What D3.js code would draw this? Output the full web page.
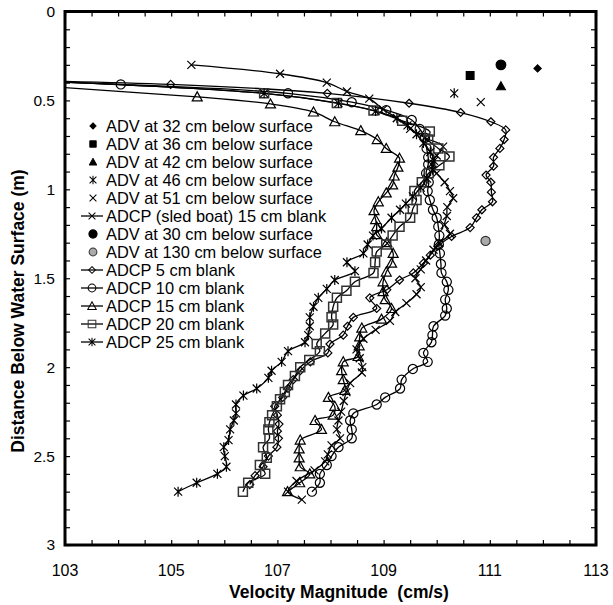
<!doctype html>
<html>
<head>
<meta charset="utf-8">
<script src="https://cdn.jsdelivr.net/npm/d3@7"></script>
<style>
body { margin: 0; background: #fff; }
text { font-family: Arial, "Liberation Sans", sans-serif; fill: #000; }
.axis path { display: none; }
.axis line { stroke: #000; stroke-width: 1.2px; }
</style>
</head>
<body>
<svg width="613" height="605"></svg>
<script>
// tick labels
var xLabels = [103, 105, 107, 109, 111, 113];
var yLabels = [0, 0.5, 1, 1.5, 2, 2.5, 3];

// ADCP profiles: [velocity cm/s, depth m]
var adcp5 = [[97,0.36],[104.99,0.41],[107.94,0.46],[109.48,0.516],[110.45,0.568],[111.02,0.62],[111.30,0.666],[111.27,0.72],[111.19,0.77],[111.07,0.82],[111.07,0.87],[110.93,0.92],[111.02,0.96],[111.03,1.016],[111.05,1.07],[110.85,1.115],[110.75,1.16],[110.63,1.215],[110.28,1.265],[110.02,1.32],[109.88,1.37],[109.75,1.415],[109.56,1.47],[109.30,1.51],[109.06,1.565],[108.74,1.61],[108.87,1.67],[108.43,1.72],[108.32,1.77],[108.24,1.82],[107.99,1.87],[107.95,1.92],[107.62,1.97],[107.43,2.02],[107.30,2.07],[107.20,2.12],[107.10,2.17],[106.95,2.22],[107.00,2.27],[107.03,2.32],[107.00,2.36],[107.02,2.40],[106.99,2.45],[106.83,2.50],[106.73,2.56],[106.58,2.61],[106.48,2.66]];
var adcp10 = [[97,0.35],[104.05,0.41],[107.2,0.46],[108.4,0.51],[109.05,0.555],[109.53,0.61],[109.68,0.66],[109.78,0.71],[109.81,0.77],[109.84,0.82],[109.84,0.86],[109.80,0.91],[109.85,0.96],[109.83,1.01],[109.87,1.06],[109.93,1.115],[110.00,1.16],[110.03,1.21],[110.05,1.26],[110.04,1.31],[110.06,1.36],[110.08,1.42],[110.09,1.47],[110.19,1.52],[110.22,1.565],[110.16,1.62],[110.19,1.67],[110.16,1.71],[109.94,1.77],[109.92,1.82],[109.90,1.86],[109.75,1.92],[109.83,1.97],[109.55,2.01],[109.34,2.07],[109.31,2.12],[109.03,2.17],[108.87,2.21],[108.43,2.26],[108.37,2.30],[108.40,2.35],[108.40,2.40],[108.15,2.45],[108.02,2.50],[107.93,2.55],[107.80,2.60],[107.80,2.65],[107.65,2.70]];
var adcp15 = [[99,0.35],[105.49,0.48],[106.87,0.52],[107.68,0.565],[108.08,0.62],[108.57,0.67],[108.88,0.72],[109.05,0.77],[109.30,0.825],[109.27,0.875],[109.20,0.925],[109.17,0.975],[109.05,1.02],[108.90,1.07],[108.82,1.12],[108.85,1.17],[108.87,1.21],[108.87,1.255],[109.06,1.30],[109.18,1.36],[109.15,1.415],[109.05,1.465],[108.99,1.52],[108.99,1.575],[109.03,1.62],[109.15,1.67],[108.96,1.73],[108.59,1.78],[108.55,1.83],[108.54,1.88],[108.52,1.94],[108.24,1.97],[108.21,2.02],[108.24,2.07],[108.27,2.13],[107.96,2.17],[108.08,2.22],[108.05,2.27],[107.71,2.30],[107.83,2.35],[107.43,2.41],[107.41,2.46],[107.41,2.51],[107.43,2.56],[107.61,2.60],[107.42,2.65],[107.19,2.70]];
var adcp20 = [[100,0.36],[106.75,0.46],[108.12,0.515],[108.81,0.557],[109.35,0.615],[109.87,0.675],[109.84,0.72],[110.03,0.77],[110.24,0.815],[110.05,0.865],[109.85,0.91],[109.72,0.96],[109.58,1.01],[109.62,1.06],[109.55,1.11],[109.50,1.16],[109.30,1.21],[109.17,1.26],[109.05,1.31],[108.87,1.35],[108.84,1.41],[108.81,1.47],[108.46,1.52],[108.30,1.57],[108.12,1.61],[108.05,1.66],[108.02,1.72],[108.05,1.76],[107.90,1.81],[107.74,1.87],[107.80,1.91],[107.60,1.96],[107.43,2.00],[107.33,2.05],[107.20,2.10],[107.14,2.14],[107.05,2.18],[106.99,2.22],[106.90,2.27],[106.85,2.31],[106.83,2.35],[106.85,2.40],[106.73,2.45],[106.80,2.51],[106.67,2.55],[106.77,2.60],[106.45,2.65],[106.35,2.70]];
var adcp25 = [[100,0.36],[106.75,0.46],[108.15,0.515],[108.85,0.56],[109.25,0.60],[109.45,0.64],[109.62,0.69],[109.75,0.74],[109.88,0.79],[109.95,0.84],[109.92,0.89],[109.82,0.94],[109.70,0.99],[109.55,1.04],[109.42,1.08],[109.31,1.115],[109.15,1.16],[108.96,1.22],[108.80,1.26],[108.70,1.31],[108.62,1.36],[108.31,1.41],[108.46,1.46],[108.08,1.51],[107.93,1.56],[107.77,1.61],[107.68,1.66],[107.61,1.72],[107.61,1.77],[107.58,1.82],[107.52,1.86],[107.20,1.91],[107.08,1.97],[106.89,2.02],[106.83,2.06],[106.61,2.12],[106.36,2.16],[106.22,2.21],[106.22,2.26],[106.18,2.30],[106.11,2.35],[106.08,2.41],[105.99,2.45],[106.01,2.50],[106.04,2.56],[105.87,2.60],[105.48,2.65],[105.13,2.70]];
var sledBoat = [[105.38,0.30],[107.05,0.35],[107.93,0.40],[108.31,0.45],[108.73,0.49],[108.99,0.55],[109.25,0.60],[109.50,0.66],[109.78,0.71],[110.12,0.76],[110.00,0.81],[109.90,0.86],[110.00,0.91],[110.15,0.96],[110.25,1.01],[110.31,1.05],[110.20,1.10],[110.19,1.15],[110.15,1.20],[110.25,1.25],[110.05,1.30],[109.94,1.34],[109.80,1.40],[109.70,1.45],[109.60,1.50],[109.70,1.55],[109.62,1.59],[109.43,1.64],[109.22,1.69],[109.12,1.74],[108.85,1.79],[108.62,1.84],[108.49,1.90],[108.55,1.95],[108.60,2.00],[108.59,2.03],[108.37,2.09],[108.30,2.14],[108.25,2.19],[108.20,2.25],[108.15,2.30],[108.12,2.35],[108.18,2.40],[108.02,2.44],[107.95,2.49],[107.90,2.53],[107.70,2.58],[107.36,2.64],[107.20,2.70],[107.46,2.745]];

// single ADV points
var adv32 = [[111.9, 0.32]];
var adv36 = [[110.63, 0.36]];
var adv42 = [[111.21, 0.42]];
var adv46 = [[110.33, 0.46]];
var adv51 = [[110.83, 0.51]];
var adv30 = [[111.21, 0.30]];
var adv130 = [[110.92, 1.29]];

var shapes = {
    diamond: "M0,-4L4,0L0,4L-4,0Z",
    smallDiamond: "M0,-3.6L3.6,0L0,3.6L-3.6,0Z",
    square: "M-4.5,-4.5H4.5V4.5H-4.5Z",
    triangle: "M0,-5L5,4L-5,4Z",
    cross: "M-4,-4L4,4M-4,4L4,-4",
    star: "M-4,-4L4,4M-4,4L4,-4M0,-5V5",
    circle: d3.symbol(d3.symbolCircle, 66)()
};

var series = [
    { name: "ADV at 32 cm below surface", data: adv32, shape: "smallDiamond", line: false, fill: "#000", stroke: "#000" },
    { name: "ADV at 36 cm below surface", data: adv36, shape: "square", line: false, fill: "#000", stroke: "#000", scale: 0.85 },
    { name: "ADV at 42 cm below surface", data: adv42, shape: "triangle", line: false, fill: "#000", stroke: "#000", scale: 0.9 },
    { name: "ADV at 46 cm below surface", data: adv46, shape: "star", line: false, fill: "none", stroke: "#000" },
    { name: "ADV at 51 cm below surface", data: adv51, shape: "cross", line: false, fill: "none", stroke: "#000" },
    { name: "ADCP (sled boat) 15 cm blank", data: sledBoat, shape: "cross", line: true, fill: "none", stroke: "#000" },
    { name: "ADV at 30 cm below surface", data: adv30, shape: "circle", line: false, fill: "#000", stroke: "#000", scale: 1.05 },
    { name: "ADV at 130 cm below surface", data: adv130, shape: "circle", line: false, fill: "#aaa", stroke: "#333" },
    { name: "ADCP 5 cm blank", data: adcp5, shape: "diamond", line: true, fill: "none", stroke: "#000" },
    { name: "ADCP 10 cm blank", data: adcp10, shape: "circle", line: true, fill: "none", stroke: "#000" },
    { name: "ADCP 15 cm blank", data: adcp15, shape: "triangle", line: true, fill: "none", stroke: "#000" },
    { name: "ADCP 20 cm blank", data: adcp20, shape: "square", line: true, fill: "none", stroke: "#333" },
    { name: "ADCP 25 cm blank", data: adcp25, shape: "star", line: true, fill: "none", stroke: "#000" }
];

var svg = d3.select("svg"),
    pLeft = 65, pRight = 596, pTop = 11.5, pBottom = 545;

var x = d3.scaleLinear().domain([103, 113]).range([pLeft, pRight]);
var y = d3.scaleLinear().domain([0, 3]).range([pTop, pBottom]);

svg.append("clipPath").attr("id", "clip")
    .append("rect")
    .attr("x", pLeft).attr("y", pTop)
    .attr("width", pRight - pLeft).attr("height", pBottom - pTop);

// inward ticks on all four sides
svg.append("g").attr("class", "axis").attr("transform", "translate(0," + pBottom + ")")
    .call(d3.axisBottom(x).ticks(20).tickSize(-5).tickFormat(""));
svg.append("g").attr("class", "axis").attr("transform", "translate(0," + pTop + ")")
    .call(d3.axisTop(x).ticks(20).tickSize(-5).tickFormat(""));
svg.append("g").attr("class", "axis").attr("transform", "translate(" + pLeft + ",0)")
    .call(d3.axisLeft(y).ticks(30).tickSize(-5).tickFormat(""));
svg.append("g").attr("class", "axis").attr("transform", "translate(" + pRight + ",0)")
    .call(d3.axisRight(y).ticks(30).tickSize(-5).tickFormat(""));

svg.selectAll(".xl").data(xLabels).enter().append("text")
    .attr("x", function(d) { return x(d); })
    .attr("y", 576)
    .attr("text-anchor", "middle")
    .style("font-size", "16px")
    .text(function(d) { return d; });

svg.selectAll(".yl").data(yLabels).enter().append("text")
    .attr("x", 55)
    .attr("y", function(d) { return y(d); })
    .attr("dy", "0.35em")
    .attr("text-anchor", "end")
    .style("font-size", "15.5px")
    .text(function(d) { return d; });

svg.append("text")
    .attr("x", 339).attr("y", 598)
    .attr("text-anchor", "middle")
    .style("font-size", "17.5px").style("font-weight", "bold")
    .style("white-space", "pre")
    .text("Velocity Magnitude  (cm/s)");

svg.append("text")
    .attr("transform", "translate(24,311) rotate(-90)")
    .attr("text-anchor", "middle")
    .style("font-size", "17.5px").style("font-weight", "bold")
    .text("Distance Below Water Surface (m)");

var plot = svg.append("g").attr("clip-path", "url(#clip)");

var line = d3.line()
    .x(function(d) { return x(d[0]); })
    .y(function(d) { return y(d[1]); })
    .curve(d3.curveCatmullRom.alpha(0.5));

series.forEach(function(s) {
    if (s.line) {
        plot.append("path")
            .datum(s.data)
            .attr("d", line)
            .attr("fill", "none")
            .attr("stroke", "#000")
            .attr("stroke-width", 1.3);
    }
});

series.forEach(function(s) {
    plot.append("g").selectAll("path")
        .data(s.data)
        .enter().append("path")
        .attr("d", shapes[s.shape])
        .attr("transform", function(d) {
            return "translate(" + x(d[0]) + "," + y(d[1]) + ") scale(" + (s.scale || 1) + ")";
        })
        .attr("fill", s.fill)
        .attr("stroke", s.stroke)
        .attr("stroke-width", s.shape == "square" ? 1.5 : 1.2);
});

// legend
var legend = svg.append("g");
series.forEach(function(s, i) {
    var ly = 126 + i * 18;
    var g = legend.append("g").attr("transform", "translate(0," + ly + ")");
    if (s.line) {
        g.append("line").attr("x1", 81).attr("x2", 103)
            .attr("stroke", "#000").attr("stroke-width", 1.3);
    }
    g.append("path")
        .attr("d", shapes[s.shape])
        .attr("transform", "translate(" + (s.line ? 92 : 93) + ",0) scale(" + (s.scale || 1) * 0.85 + ")")
        .attr("fill", s.fill)
        .attr("stroke", s.stroke)
        .attr("stroke-width", 1.2);
    g.append("text")
        .attr("x", 106).attr("dy", "0.35em")
        .style("font-size", "16.4px")
        .text(s.name);
});

svg.append("rect")
    .attr("x", pLeft).attr("y", pTop)
    .attr("width", pRight - pLeft).attr("height", pBottom - pTop)
    .attr("fill", "none")
    .attr("stroke", "#000")
    .attr("stroke-width", 3);
</script>
</body>
</html>
